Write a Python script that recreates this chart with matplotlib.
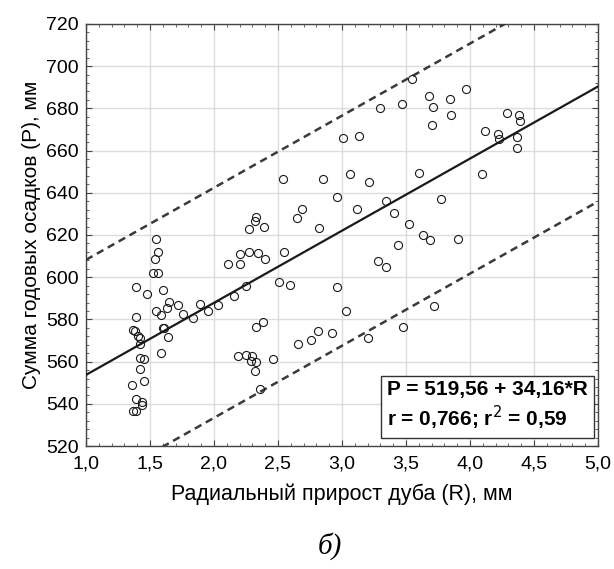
import numpy as np
import matplotlib.pyplot as plt
from matplotlib.ticker import MultipleLocator, FuncFormatter

# radial growth of oak (R), mm
r_vals = [3.55, 3.97, 3.68, 3.84, 3.47, 3.30, 3.71, 3.85, 3.70, 4.29,
          4.38, 4.39, 4.12, 4.22, 4.23, 4.37, 4.37, 3.01, 3.13, 4.09,
          3.60, 3.06, 2.54, 2.85, 3.21, 2.96, 3.34, 3.77, 3.12, 2.69,
          2.65, 3.41, 3.52, 2.82, 2.33, 2.32, 2.27, 2.39, 3.63, 3.69,
          3.91, 3.44, 1.55, 1.56, 1.54, 1.52, 1.56, 2.20, 2.27, 2.34,
          2.55, 2.40, 2.11, 2.20, 3.28, 3.34, 1.39, 1.48, 1.60, 2.51,
          2.59, 2.96, 2.25, 2.16, 1.65, 1.72, 1.89, 2.03, 1.63, 1.55,
          1.59, 1.76, 1.95, 1.84, 3.03, 3.72, 1.39, 1.37, 1.38, 1.60,
          1.61, 1.41, 1.42, 1.42, 1.64, 2.38, 2.33, 3.48, 2.81, 2.92,
          2.76, 2.66, 3.20, 1.59, 1.42, 1.45, 2.19, 2.25, 2.30, 2.29,
          2.33, 2.32, 2.46, 1.42, 1.45, 1.36, 2.36, 1.39, 1.44, 1.44,
          1.37, 1.39]

# annual precipitation sum (P), mm
p_vals = [694.1, 689.0, 685.9, 684.3, 682.2, 680.3, 680.8, 676.7, 672.1, 677.8,
          676.9, 674.2, 669.1, 667.7, 665.7, 666.4, 661.4, 666.0, 667.1, 649.1,
          649.5, 649.1, 646.4, 646.4, 645.0, 638.2, 636.1, 637.2, 632.5, 632.5,
          627.9, 630.6, 625.4, 623.3, 628.7, 626.8, 622.8, 623.8, 619.8, 617.6,
          618.1, 615.1, 618.1, 612.1, 608.5, 601.8, 601.8, 611.0, 612.1, 611.5,
          612.1, 608.5, 606.4, 606.4, 607.5, 605.0, 595.2, 592.0, 594.1, 597.7,
          596.1, 595.2, 595.8, 591.1, 588.4, 587.0, 587.3, 586.8, 585.4, 583.8,
          582.2, 582.7, 583.8, 580.7, 583.8, 586.4, 581.3, 575.0, 574.7, 575.8,
          575.8, 572.1, 571.0, 568.2, 571.5, 578.8, 576.6, 576.6, 574.5, 573.6,
          570.1, 568.5, 571.0, 563.9, 561.5, 561.4, 562.8, 563.1, 562.5, 560.1,
          559.7, 555.5, 561.2, 556.7, 551.0, 548.9, 547.0, 542.3, 540.7, 539.3,
          536.7, 536.7]

# regression P = a + b*R and half-width of the dashed band
a, b = 519.56, 34.16
band = 54.5

plt.rcParams['font.family'] = ['Liberation Sans', 'DejaVu Sans']

fig = plt.figure(figsize=(6.14, 5.69), dpi=100)
ax = fig.add_axes([0.140, 0.216, 0.834, 0.742])

ax.grid(True, color='#dcdcdc', linewidth=1.0, zorder=0)
ax.set_axisbelow(True)

xs = np.array([1.0, 5.0])
ax.plot(xs, a + b * xs, color='#1a1a1a', linewidth=1.6, zorder=3)
ax.plot(xs, a + b * xs + band, color='#3a3a3a', linewidth=1.8,
        dashes=(3, 2), zorder=3)
ax.plot(xs, a + b * xs - band, color='#3a3a3a', linewidth=1.8,
        dashes=(3, 2), zorder=3)

ax.plot(r_vals, p_vals, 'o', markersize=5.8, markerfacecolor='none',
        markeredgecolor='#1a1a1a', markeredgewidth=0.8, zorder=4)

ax.set_xlim(1.0, 5.0)
ax.set_ylim(520, 720)
ax.xaxis.set_major_locator(MultipleLocator(0.5))
ax.xaxis.set_minor_locator(MultipleLocator(0.1))
ax.yaxis.set_major_locator(MultipleLocator(20))
ax.yaxis.set_minor_locator(MultipleLocator(4))
ax.xaxis.set_major_formatter(FuncFormatter(lambda v, p: ('%.1f' % v).replace('.', ',')))
ax.tick_params(which='both', direction='in', top=True, right=True,
               labelsize=14, color='#444444')
ax.tick_params(which='major', length=4)
ax.tick_params(axis='x', which='major', pad=7)
ax.tick_params(axis='y', which='major', pad=5)
ax.tick_params(which='minor', length=2)
for s in ax.spines.values():
    s.set_color('#444444')
    s.set_linewidth(1.0)

ax.set_xlabel('Радиальный прирост дуба (R), мм', fontsize=15.5, labelpad=8)
ax.set_ylabel('Сумма годовых осадков (Р), мм', fontsize=15, labelpad=4)

ax.text(0.9805, 0.033, 'P = 519,56 + 34,16*R\nr = 0,766; r$^2$ = 0,59',
        transform=ax.transAxes, ha='right', va='bottom', multialignment='left',
        fontsize=15, fontweight='bold', linespacing=1.2, zorder=6,
        bbox=dict(boxstyle='square,pad=0.3', facecolor='white',
                  edgecolor='#333333', linewidth=1.0))

fig.text(0.538, 0.04, 'б)', fontsize=21, style='italic',
         family='Liberation Serif', ha='center', va='center')

fig.savefig('out.png', dpi=100)
